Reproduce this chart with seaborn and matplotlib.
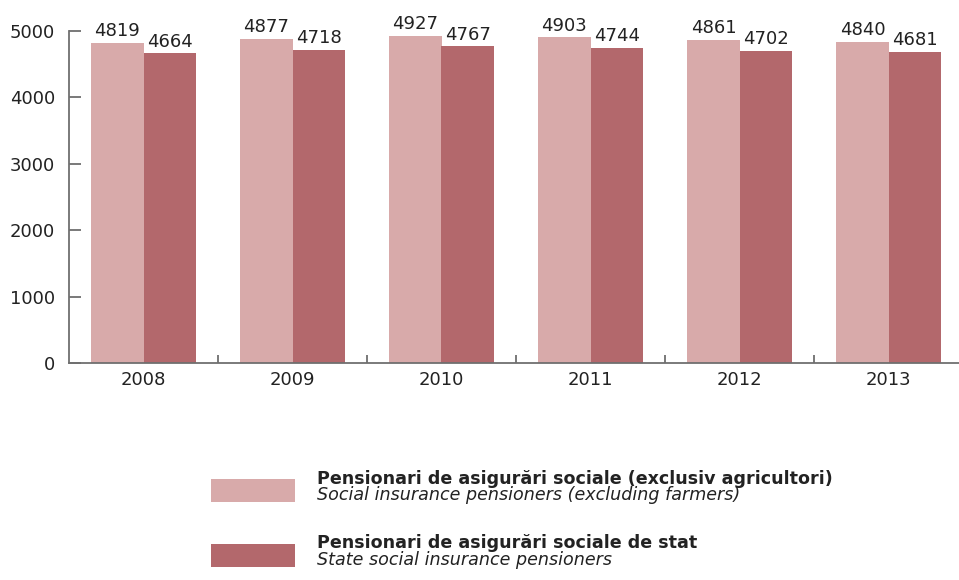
import matplotlib
matplotlib.use("Agg")
import matplotlib.pyplot as plt
import seaborn as sns
import pandas as pd
from matplotlib.patches import Rectangle
from matplotlib.ticker import FixedLocator

years = ["2008", "2009", "2010", "2011", "2012", "2013"]
social = [4819, 4877, 4927, 4903, 4861, 4840]
state = [4664, 4718, 4767, 4744, 4702, 4681]
series_ro = ["Pensionari de asigurări sociale (exclusiv agricultori)",
             "Pensionari de asigurări sociale de stat"]
series_en = ["Social insurance pensioners (excluding farmers)",
             "State social insurance pensioners"]
colors = ["#D8AAAA", "#B3686C"]
yticks = [0, 1000, 2000, 3000, 4000, 5000]

df = pd.DataFrame({
    "year": years * 2,
    "value": social + state,
    "series": [series_ro[0]] * len(years) + [series_ro[1]] * len(years),
})

sns.set_theme(style="white")
plt.rcParams["font.family"] = ["DejaVu Sans"]

fig = plt.figure(figsize=(9.59, 5.80), dpi=100)
ax = fig.add_axes([69 / 959, 1 - 363 / 580, 894 / 959, 332 / 580])

sns.barplot(data=df, x="year", y="value", hue="series", palette=colors,
            width=0.7, gap=0, saturation=1, ax=ax, legend=False)
for c in ax.containers:
    ax.bar_label(c, fmt="%d", padding=2, fontsize=13, color="#222222")
    for p in c:
        p.set_edgecolor("none")

ax.set_xlim(-0.5, len(years) - 0.5)
ax.set_ylim(0, 5000)
ax.set_yticks(yticks)
ax.set_xlabel("")
ax.set_ylabel("")

for s in ["top", "right"]:
    ax.spines[s].set_visible(False)
for s in ["left", "bottom"]:
    ax.spines[s].set_color("#6f6f6f")
    ax.spines[s].set_linewidth(1.3)

ax.tick_params(axis="y", direction="in", length=8.5, width=1.1, color="#555555",
               labelsize=13, pad=10, labelcolor="#222222", left=True)
ax.tick_params(axis="x", which="major", length=0, labelsize=13, pad=6,
               labelcolor="#222222")
ax.xaxis.set_minor_locator(FixedLocator([i + 0.5 for i in range(len(years) - 1)]))
ax.tick_params(axis="x", which="minor", direction="in", length=5.5, width=1.1,
               color="#555555", bottom=True)

# legend drawn as figure elements
W, H = 959, 580
patch_y = [479, 544]
for i in range(2):
    y0 = patch_y[i]
    fig.patches.append(Rectangle((211 / W, 1 - (y0 + 23) / H), 84 / W, 23 / H,
                                 transform=fig.transFigure, facecolor=colors[i],
                                 edgecolor="none"))
    fig.text(317 / W, 1 - (y0 + 4.5) / H, series_ro[i], fontsize=12.6,
             fontweight="bold", color="#222222", ha="left", va="baseline")
    fig.text(317 / W, 1 - (y0 + 21) / H, series_en[i], fontsize=12.6,
             fontstyle="italic", color="#222222", ha="left", va="baseline")

fig.savefig("out.png", dpi=100)
